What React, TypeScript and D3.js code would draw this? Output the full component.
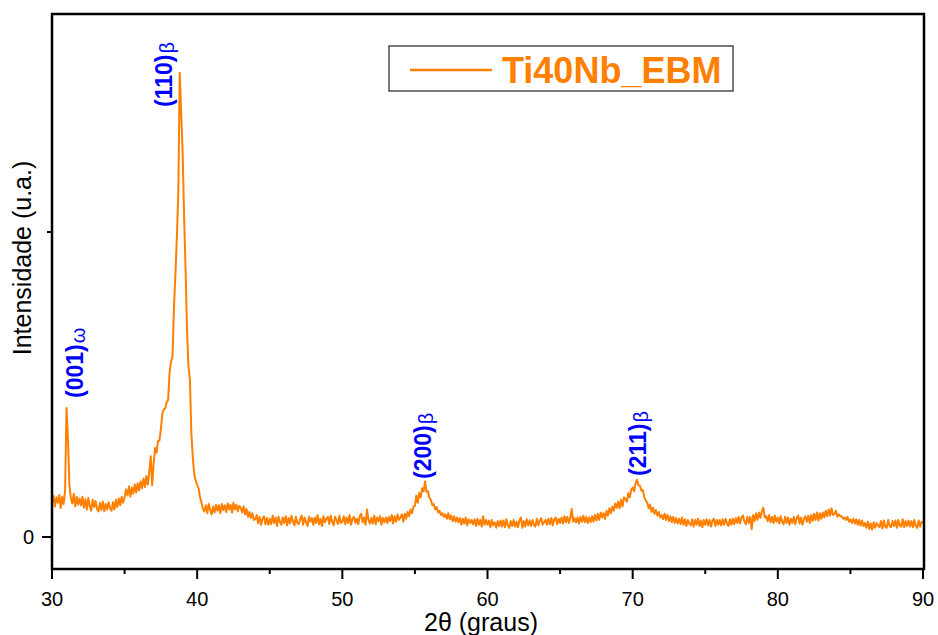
import React from "react";
import * as d3 from "d3";

// ---- data ----
const ANGLE_START = 30;
const ANGLE_STEP = 0.1;
// intensity (a.u.), one row per degree 30..89, plus final point at 90
const intensity: number[] = [
  110,135,100,130,112,138,95,132,108,150,
  423,320,170,128,110,142,100,132,106,126,
  104,132,96,124,90,128,102,86,122,98,
  118,92,84,112,88,116,84,108,90,114,
  94,86,114,90,122,98,126,104,132,112,
  130,156,136,166,132,162,142,172,146,176,
  152,182,160,192,164,200,172,212,265,170,
  240,292,276,314,316,354,404,418,422,442,
  450,540,575,590,750,860,980,1130,1522,1390,
  1260,1050,880,680,560,515,340,260,205,185,
  170,160,130,112,92,84,104,78,108,88,
  74,100,80,106,86,104,78,108,88,104,
  82,110,90,106,80,112,90,106,84,102,
  96,80,100,74,92,66,82,62,78,56,
  58,72,45,66,40,60,68,42,62,40,
  60,42,70,46,64,36,66,50,40,64,
  46,68,38,62,44,70,50,38,66,46,
  42,60,70,40,64,48,36,66,50,62,
  40,64,46,72,42,60,36,68,48,60,
  66,42,70,50,38,66,56,42,70,46,
  50,68,42,64,46,72,40,60,66,46,
  60,42,68,76,48,64,40,90,56,44,
  62,44,70,42,64,52,68,40,62,48,
  64,46,66,52,72,44,68,50,74,56,
  64,74,50,76,60,82,68,90,78,100,
  102,136,112,145,130,160,150,182,148,150,
  128,122,104,108,90,98,80,86,72,78,
  66,74,60,78,58,70,52,68,50,64,
  48,62,40,60,44,64,38,58,46,56,
  42,58,36,60,40,56,34,68,40,56,
  40,54,32,56,38,48,30,52,36,54,
  34,54,32,58,38,30,52,36,56,34,
  50,32,54,64,30,52,34,58,38,54,
  36,56,40,34,60,38,54,62,40,48,
  56,40,60,42,62,38,58,64,42,60,
  46,64,44,68,48,66,46,62,92,50,
  62,48,64,44,66,50,70,48,66,46,
  64,48,68,50,72,54,76,56,80,64,
  78,60,86,70,94,78,100,86,110,96,
  116,94,122,100,130,124,116,144,130,154,
  162,150,176,188,170,168,152,154,130,120,
  112,94,106,82,96,76,88,70,82,64,
  72,58,76,56,72,52,68,48,66,46,
  62,44,60,42,64,40,58,36,56,44,
  38,58,34,56,40,60,36,54,32,56,
  40,58,38,56,34,54,60,36,56,40,
  56,38,58,40,60,44,36,58,40,60,
  42,62,46,66,44,64,70,50,42,66,
  46,66,26,72,52,78,56,80,62,84,
  96,64,68,52,72,48,66,46,70,50,
  64,44,68,50,42,66,46,64,40,60,
  46,66,42,62,70,44,64,40,60,68,
  50,70,46,72,52,76,56,80,54,78,
  60,80,64,86,68,90,70,94,72,76,
  86,66,74,68,68,60,64,56,66,50,
  58,46,60,44,58,40,56,38,54,36,
  46,30,50,26,44,24,48,30,46,38,
  32,52,28,54,34,30,56,36,32,52,
  36,54,30,56,38,34,58,32,52,36,
  54,34,52,32,56,36,30,54,34,50,
  46,
];

const xMajorTicks = [30, 40, 50, 60, 70, 80, 90];
const xMinorTicks = [35, 45, 55, 65, 75, 85];
const yMajorTicks = [0];
const yMinorTicks = [1000];

const peakLabels = ["(001)", "(110)", "(200)", "(211)"];
const peakPhases = ["ω", "β", "β", "β"];
const peakAngles = [31.0, 38.8, 55.7, 70.3];

const seriesName = "Ti40Nb_EBM";
const xTitle = "2θ (graus)";
const yTitle = "Intensidade (u.a.)";

// ---- layout ----
const W = 938, H = 635;
const left = 52, right = 923, top = 14, bottom = 569;
const ORANGE = "#FF8000";
const FONT = "'Liberation Sans', Arial, sans-serif";
// label placement offsets (px) relative to peak position
const labelDx = [16, -8, 6, 9];
const labelBottom = [398, 107, 479, 476];

export default function App() {
  const x = d3.scaleLinear().domain([30, 90]).range([left, right]);
  const y = d3.scaleLinear().domain([-105, 1715]).range([bottom, top]);
  const pts: [number, number][] = intensity.map((v, i) => [ANGLE_START + i * ANGLE_STEP, v]);
  const line = d3.line<[number, number]>().x(d => x(d[0])).y(d => y(d[1]));

  return (
    <svg width={W} height={H} style={{ position: "absolute", left: 0, top: 0, background: "#fff" }}
      fontFamily={FONT}>
      <path d={line(pts) || ""} fill="none" stroke={ORANGE} strokeWidth={2} strokeLinejoin="round" />

      {/* frame */}
      <rect x={left} y={top} width={right - left + 1} height={bottom - top} fill="none" stroke="#000" strokeWidth={2.5} />

      {/* x ticks */}
      {xMajorTicks.map(t => (
        <g key={"xM" + t}>
          <line x1={x(t)} x2={x(t)} y1={bottom} y2={bottom + 10} stroke="#000" strokeWidth={2} />
          <text x={x(t)} y={606} textAnchor="middle" fontSize={20} fill="#000">{t}</text>
        </g>
      ))}
      {xMinorTicks.map(t => (
        <line key={"xm" + t} x1={x(t)} x2={x(t)} y1={bottom} y2={bottom + 5} stroke="#000" strokeWidth={2} />
      ))}
      {/* y ticks */}
      {yMajorTicks.map(t => (
        <g key={"yM" + t}>
          <line x1={left} x2={left - 10} y1={y(t)} y2={y(t)} stroke="#000" strokeWidth={2} />
          <text x={34} y={y(t) + 7} textAnchor="end" fontSize={20} fill="#000">{t}</text>
        </g>
      ))}
      {yMinorTicks.map(t => (
        <line key={"ym" + t} x1={left} x2={left - 5} y1={y(t)} y2={y(t)} stroke="#000" strokeWidth={2} />
      ))}

      {/* titles */}
      <text x={481} y={631} textAnchor="middle" fontSize={25} fill="#000">{xTitle}</text>
      <text transform={`translate(31,258) rotate(-90)`} textAnchor="middle" fontSize={25} fill="#000">{yTitle}</text>

      {/* peak labels */}
      {peakLabels.map((lab, i) => {
        const bx = x(peakAngles[i]) + labelDx[i];
        return (
          <text key={lab + i} transform={`translate(${bx},${labelBottom[i]}) rotate(-90)`}
            fontSize={23} fontWeight="bold" fill="#0000FF">
            {lab}
            <tspan fontSize={20} fontWeight="normal" dx={1} dy={2}>{peakPhases[i]}</tspan>
          </text>
        );
      })}

      {/* legend */}
      <rect x={389} y={46} width={344} height={45} fill="#fff" stroke="#333" strokeWidth={1.3} />
      <line x1={410} x2={492} y1={70} y2={70} stroke={ORANGE} strokeWidth={2.5} />
      <text x={502} y={83} fontSize={36} fontWeight="bold" fill={ORANGE}>{seriesName}</text>
    </svg>
  );
}
